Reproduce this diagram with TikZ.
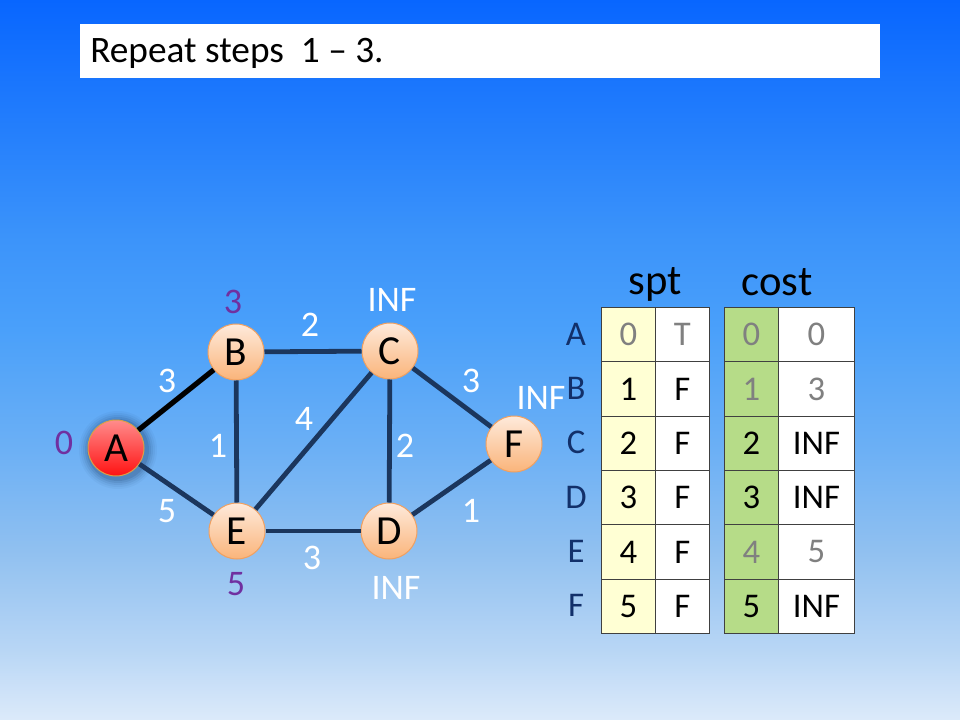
\documentclass[tikz,border=0pt]{standalone}
\usepackage{fontspec}
\setmainfont{Carlito}
\definecolor{sky0}{HTML}{0866FF}
\definecolor{sky1}{HTML}{3C94FA}
\definecolor{sky2}{HTML}{4AA0FA}
\definecolor{sky3}{HTML}{6CB0F5}
\definecolor{sky4}{HTML}{90C0F0}
\definecolor{sky5}{HTML}{B8D6F5}
\definecolor{sky6}{HTML}{DCEAFA}
\definecolor{edgeblue}{HTML}{1B365D}
\definecolor{peachtop}{HTML}{FEEADB}
\definecolor{peachbot}{HTML}{FAB47A}
\definecolor{ballrim}{HTML}{F0A060}
\definecolor{redtop}{HTML}{FF8C8C}
\definecolor{redbot}{HTML}{FF1212}
\definecolor{redrim}{HTML}{D8A048}
\definecolor{glow}{HTML}{0B2650}
\definecolor{purplelbl}{HTML}{7030A0}
\definecolor{navylbl}{HTML}{12306A}
\definecolor{sptyellow}{HTML}{FFFFD4}
\definecolor{costgreen}{HTML}{B6DC88}
\definecolor{dimtext}{HTML}{808080}
\definecolor{gridline}{HTML}{404040}
% sky gradient; the visible band of a TikZ shading is 25bp..75bp
\pgfdeclareverticalshading{skyshade}{100bp}{color(0bp)=(sky6); color(25bp)=(sky6); color(29.9bp)=(sky5);
  color(36.8bp)=(sky4); color(43.75bp)=(sky3); color(52.1bp)=(sky2); color(58.3bp)=(sky1);
  color(75bp)=(sky0); color(100bp)=(sky0)}
\tikzset{
  ball/.style={circle, minimum size=42pt, inner sep=0pt, draw=ballrim, line width=0.75pt,
    top color=peachtop, bottom color=peachbot, font=\fontsize{31}{31}\selectfont},
  startball/.style={ball, top color=redtop, bottom color=redbot, draw=redrim},
  link/.style={edgeblue, line width=3.6pt},
  treelink/.style={black, line width=3.9pt},
  weight/.style={text=white, font=\fontsize{27}{27}\selectfont, inner sep=0pt},
  distlbl/.style={text=purplelbl, font=\fontsize{27}{27}\selectfont, inner sep=0pt},
  inflbl/.style={text=white, font=\fontsize{27}{27}\selectfont, inner sep=0pt},
  rowlbl/.style={text=navylbl, font=\fontsize{26}{26}\selectfont, inner sep=0pt},
  cell/.style={draw=gridline, line width=0.6pt, anchor=north west, inner sep=0pt,
    minimum height=40.75pt, font=\fontsize{26}{26}\selectfont},
  narrow/.style={cell, minimum width=40.5pt},
  wide/.style={cell, minimum width=57pt},
  heading/.style={font=\fontsize{32}{32}\selectfont, inner sep=0pt}
}
\begin{document}
\begin{tikzpicture}[x=0.75pt, y=-0.75pt]
  % backdrop
  \shade[shading=skyshade] (0,0) rectangle (960,720);
  \useasboundingbox (0,0) rectangle (960,720);

  % title bar
  \node[fill=white, minimum width=600pt, minimum height=40.5pt, inner sep=0pt, anchor=north west] (titlebar) at (80,24) {};
  \node[anchor=west, inner sep=0pt, font=\fontsize{28}{28}\selectfont] (title) at (90,53) {Repeat steps\ \ 1 -- 3.};

  % soft glow around the source vertex
  \foreach \rr/\op in {39/0.04, 37/0.05, 35/0.07, 33/0.09, 31/0.12}
    \fill[glow, opacity=\op] (118,450) circle (\rr);

  % vertices
  \node[startball] (A) at (116,448) {A};
  \node[ball] (B) at (236,352) {B};
  \node[ball] (C) at (390,351) {C};
  \node[ball] (F) at (514,444) {F};
  \node[ball] (E) at (237,531) {E};
  \node[ball] (D) at (389,531) {D};

  % edges
  \draw[treelink] (A) -- (B);
  \draw[link] (A) -- (E);
  \draw[link] (B) -- (C);
  \draw[link] (B) -- (E);
  \draw[link] (E) -- (C);
  \draw[link] (C) -- (D);
  \draw[link] (C) -- (F);
  \draw[link] (E) -- (D);
  \draw[link] (D) -- (F);

  % edge weights
  \node[weight] (wAB) at (167,381) {3};
  \node[weight] (wAE) at (167,511) {5};
  \node[weight] (wBC) at (310,325) {2};
  \node[weight] (wBE) at (218,446) {1};
  \node[weight] (wEC) at (304,419) {4};
  \node[weight] (wCD) at (405,446) {2};
  \node[weight] (wCF) at (471,381) {3};
  \node[weight] (wED) at (312,558) {3};
  \node[weight] (wDF) at (471,511) {1};

  % tentative distances
  \node[distlbl] (dA) at (64,443) {0};
  \node[distlbl] (dB) at (233,302) {3};
  \node[distlbl] (dE) at (236,584) {5};
  \node[inflbl] (dC) at (392,300) {INF};
  \node[inflbl] (dF) at (541,398) {INF};
  \node[inflbl] (dD) at (396,588) {INF};

  % table headings
  \node[heading] (spthead) at (655,284) {spt};
  \node[heading] (costhead) at (777,282) {cost};

  % table rows
  \foreach \lbl/\ia/\sa/\ib/\cb/\sc/\cc [count=\r from 0] in
    {A/0/T/0/0/dimtext/dimtext,
     B/1/F/1/3/black/dimtext,
     C/2/F/2/INF/black/black,
     D/3/F/3/INF/black/black,
     E/4/F/4/5/black/dimtext,
     F/5/F/5/INF/black/black}
  {
    \pgfmathsetmacro{\ytop}{307+54.33*\r}
    \pgfmathsetmacro{\ymid}{\ytop+27.2}
    \node[rowlbl] (row\lbl) at (576,\ymid) {\lbl};
    \node[narrow, fill=sptyellow, text=\sc] (sptidx\lbl) at (601,\ytop) {\ia};
    \node[narrow, fill=white, text=\sc] (sptval\lbl) at (655,\ytop) {\sa};
    \node[narrow, fill=costgreen, text=\cc] (costidx\lbl) at (724,\ytop) {\ib};
    \node[wide, fill=white, text=\cc] (costval\lbl) at (778,\ytop) {\cb};
  }
\end{tikzpicture}
\end{document}
